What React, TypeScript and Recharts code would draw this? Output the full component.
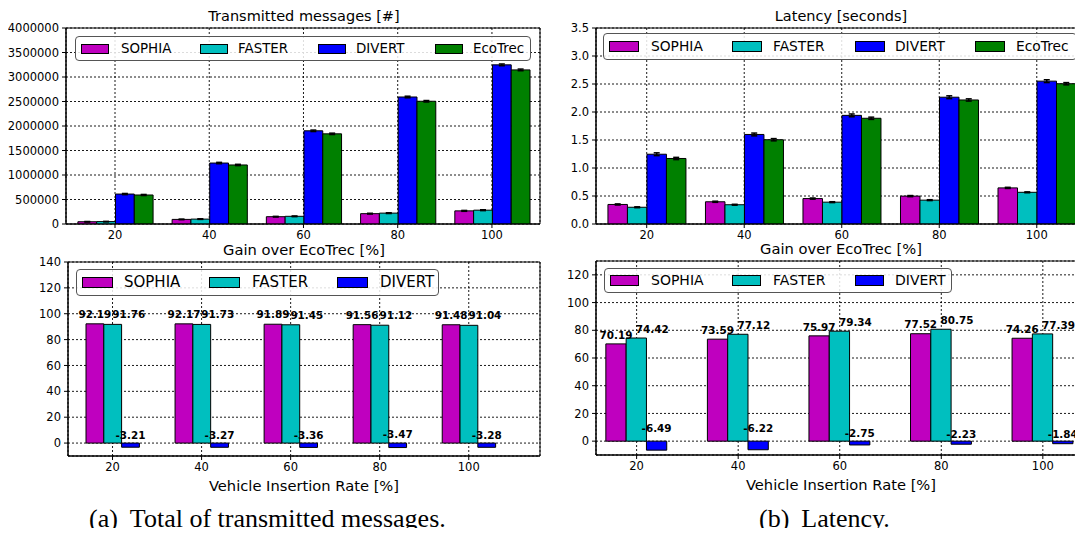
import React from "react";
import {
  BarChart,
  Bar,
  XAxis,
  YAxis,
  CartesianGrid,
  ErrorBar,
  LabelList,
  ReferenceArea,
} from "recharts";

const rates = [20, 40, 60, 80, 100];

// Transmitted messages [#]
const msgSophia = [46000, 94000, 149000, 211000, 268000];
const msgFaster = [49000, 100000, 157000, 222000, 282000];
const msgDivert = [611000, 1244000, 1902000, 2592000, 3248000];
const msgEcoTrec = [592000, 1205000, 1840000, 2505000, 3145000];
const msgSophiaErr = [5000, 6000, 7000, 8000, 9000];
const msgFasterErr = [5000, 6000, 7000, 8000, 9000];
const msgDivertErr = [12000, 14000, 15000, 16000, 18000];
const msgEcoTrecErr = [11000, 13000, 14000, 15000, 17000];

// Latency [seconds]
const latSophia = [0.349, 0.397, 0.454, 0.498, 0.645];
const latFaster = [0.299, 0.344, 0.39, 0.426, 0.566];
const latDivert = [1.246, 1.599, 1.94, 2.264, 2.551];
const latEcoTrec = [1.17, 1.505, 1.888, 2.215, 2.505];
const latSophiaErr = [0.01, 0.01, 0.01, 0.01, 0.01];
const latFasterErr = [0.008, 0.008, 0.008, 0.008, 0.008];
const latDivertErr = [0.025, 0.025, 0.025, 0.025, 0.025];
const latEcoTrecErr = [0.02, 0.02, 0.02, 0.02, 0.02];

// Gain over EcoTrec [%]
const msgGainSophia = [92.19, 92.17, 91.89, 91.56, 91.48];
const msgGainFaster = [91.76, 91.73, 91.45, 91.12, 91.04];
const msgGainDivert = [-3.21, -3.27, -3.36, -3.47, -3.28];
const latGainSophia = [70.19, 73.59, 75.97, 77.52, 74.26];
const latGainFaster = [74.42, 77.12, 79.34, 80.75, 77.39];
const latGainDivert = [-6.49, -6.22, -2.75, -2.23, -1.84];

const msgTicks = [0, 500000, 1000000, 1500000, 2000000, 2500000, 3000000, 3500000, 4000000];
const latTicks = [0, 0.5, 1, 1.5, 2, 2.5, 3, 3.5];
const gainMsgTicks = [0, 20, 40, 60, 80, 100, 120, 140];
const gainLatTicks = [0, 20, 40, 60, 80, 100, 120];

const COLORS: Record<string, string> = {
  SOPHIA: "#bf00bf",
  FASTER: "#00bfbf",
  DIVERT: "#0000ff",
  EcoTrec: "#008000",
};

const FONT = "'DejaVu Sans', sans-serif";
const SERIF = "'Liberation Serif', 'Times New Roman', serif";

const msgData = rates.map((rate, i) => ({
  rate,
  SOPHIA: msgSophia[i],
  FASTER: msgFaster[i],
  DIVERT: msgDivert[i],
  EcoTrec: msgEcoTrec[i],
  SOPHIA_err: msgSophiaErr[i],
  FASTER_err: msgFasterErr[i],
  DIVERT_err: msgDivertErr[i],
  EcoTrec_err: msgEcoTrecErr[i],
}));

const latData = rates.map((rate, i) => ({
  rate,
  SOPHIA: latSophia[i],
  FASTER: latFaster[i],
  DIVERT: latDivert[i],
  EcoTrec: latEcoTrec[i],
  SOPHIA_err: latSophiaErr[i],
  FASTER_err: latFasterErr[i],
  DIVERT_err: latDivertErr[i],
  EcoTrec_err: latEcoTrecErr[i],
}));

const msgGainData = rates.map((rate, i) => ({
  rate,
  SOPHIA: msgGainSophia[i],
  FASTER: msgGainFaster[i],
  DIVERT: msgGainDivert[i],
}));

const latGainData = rates.map((rate, i) => ({
  rate,
  SOPHIA: latGainSophia[i],
  FASTER: latGainFaster[i],
  DIVERT: latGainDivert[i],
}));

// value label sits at 1.05 * |value| above zero, FASTER ones nudged right
function GainLabel(props: any) {
  const vb = props.viewBox || props;
  const x = Number(vb.x);
  const y = Number(vb.y);
  const w = Number(vb.width);
  const h = Number(vb.height);
  const v = Number(props.value);
  if (!v || !h) return null;
  const k = Math.abs(h / v);
  const base = h * v >= 0 ? y + h : y;
  const ly = base - 1.05 * Math.abs(v) * k;
  const shift = Number(props.shift || 0);
  return (
    <text
      x={x + w / 2 + shift}
      y={ly}
      textAnchor="middle"
      fontSize={10.4}
      fontWeight="bold"
      fontFamily={FONT}
      fill="#000"
    >
      {v.toFixed(2)}
    </text>
  );
}

interface PanelProps {
  left: number;
  top: number;
  width: number;
  height: number;
  margin: { top: number; right: number; bottom: number; left: number };
  yWidth: number;
  xHeight: number;
  xDomain: [number, number];
  yDomain: [number, number];
  yTicks: number[];
  yFmt?: (v: number) => string;
  barSize: number;
  data: any[];
  keys: string[];
  errors?: boolean;
  labels?: boolean;
}

function Panel(p: PanelProps) {
  const tickStyle = { fontSize: 11.5, fill: "#000", fontFamily: FONT };
  return (
    <div style={{ position: "absolute", left: p.left, top: p.top }}>
      <BarChart
        width={p.width}
        height={p.height}
        data={p.data}
        margin={p.margin}
        barGap={0}
        barSize={p.barSize}
      >
        <XAxis
          type="number"
          dataKey="rate"
          domain={p.xDomain}
          ticks={rates}
          allowDataOverflow
          height={p.xHeight}
          tick={tickStyle}
          tickSize={4}
          tickMargin={3}
          stroke="#000"
          tickLine={{ stroke: "#000" }}
          axisLine={{ stroke: "#000" }}
        />
        <YAxis
          type="number"
          domain={p.yDomain}
          ticks={p.yTicks}
          allowDataOverflow
          width={p.yWidth}
          tick={tickStyle}
          tickFormatter={p.yFmt}
          tickSize={4}
          tickMargin={3}
          stroke="#000"
          tickLine={{ stroke: "#000" }}
          axisLine={{ stroke: "#000" }}
        />
        {p.keys.map((k) => (
          <Bar
            key={k}
            dataKey={k}
            fill={COLORS[k]}
            stroke="#000"
            strokeWidth={1}
            isAnimationActive={false}
          >
            {p.errors && (
              <ErrorBar
                dataKey={`${k}_err`}
                width={3}
                stroke="#000"
                strokeWidth={1.5}
                direction="y"
              />
            )}
            {p.labels && (
              <LabelList
                dataKey={k}
                content={<GainLabel shift={k === "FASTER" ? 16 : 0} />}
              />
            )}
          </Bar>
        ))}
        <CartesianGrid stroke="#000" strokeDasharray="2 2" strokeWidth={0.9} />
        <ReferenceArea
          x1={p.xDomain[0]}
          x2={p.xDomain[1]}
          y1={p.yDomain[0]}
          y2={p.yDomain[1]}
          fill="none"
          fillOpacity={0}
          stroke="#000"
          strokeWidth={1}
          ifOverflow="visible"
        />
      </BarChart>
    </div>
  );
}

interface LegendProps {
  left: number;
  top: number;
  width: number;
  height: number;
  fontSize: number;
  patchW: number;
  patchH: number;
  items: { name: string; patchX: number; textX: number }[];
}

function BoxLegend(l: LegendProps) {
  return (
    <div
      style={{
        position: "absolute",
        left: l.left,
        top: l.top,
        width: l.width,
        height: l.height,
        border: "1px solid #555",
        borderRadius: 4,
        background: "rgba(255,255,255,0.85)",
        boxSizing: "border-box",
        fontFamily: FONT,
        fontSize: l.fontSize,
        color: "#000",
      }}
    >
      {l.items.map((it) => (
        <React.Fragment key={it.name}>
          <div
            style={{
              position: "absolute",
              left: it.patchX,
              top: (l.height - 2 - l.patchH) / 2,
              width: l.patchW,
              height: l.patchH,
              background: COLORS[it.name],
              border: "1px solid #000",
              boxSizing: "border-box",
            }}
          />
          <div
            style={{
              position: "absolute",
              left: it.textX,
              top: 0,
              height: l.height - 2,
              lineHeight: `${l.height - 2}px`,
              whiteSpace: "nowrap",
            }}
          >
            {it.name}
          </div>
        </React.Fragment>
      ))}
    </div>
  );
}

function Label({ cx, cy, size, text }: { cx: number; cy: number; size: number; text: string }) {
  return (
    <div
      style={{
        position: "absolute",
        left: cx - 200,
        width: 400,
        top: cy - size * 0.6,
        height: size * 1.2,
        lineHeight: `${size * 1.2}px`,
        textAlign: "center",
        fontFamily: FONT,
        fontSize: size,
        color: "#000",
        whiteSpace: "nowrap",
      }}
    >
      {text}
    </div>
  );
}

function Caption({ left, tag, text }: { left: number; tag: string; text: string }) {
  return (
    <div
      style={{
        position: "absolute",
        left,
        top: 504,
        fontFamily: SERIF,
        fontSize: 26,
        lineHeight: "30px",
        color: "#000",
        whiteSpace: "nowrap",
      }}
    >
      {tag}
      <span style={{ marginLeft: 12 }}>{text}</span>
    </div>
  );
}

export default function App() {
  return (
    <div
      style={{
        position: "relative",
        width: 1083,
        height: 536,
        margin: -8,
        overflow: "hidden",
        background: "#fff",
      }}
    >
      {/* (a) transmitted messages */}
      <Panel
        left={0}
        top={0}
        width={548}
        height={250}
        margin={{ top: 28, right: 8, bottom: 0, left: 0 }}
        yWidth={66}
        xHeight={26}
        xDomain={[9.6, 110.2]}
        yDomain={[0, 4000000]}
        yTicks={msgTicks}
        barSize={18.8}
        data={msgData}
        keys={["SOPHIA", "FASTER", "DIVERT", "EcoTrec"]}
        errors
      />
      <Panel
        left={0}
        top={250}
        width={548}
        height={250}
        margin={{ top: 12, right: 8, bottom: 20, left: 0 }}
        yWidth={68}
        xHeight={24}
        xDomain={[10, 116]}
        yDomain={[-10, 140]}
        yTicks={gainMsgTicks}
        barSize={17.8}
        data={msgGainData}
        keys={["SOPHIA", "FASTER", "DIVERT"]}
        labels
      />

      {/* (b) latency */}
      <Panel
        left={540}
        top={0}
        width={560}
        height={250}
        margin={{ top: 28, right: 13.5, bottom: 0, left: 0 }}
        yWidth={56}
        xHeight={26}
        xDomain={[9.6, 110.2]}
        yDomain={[0, 3.5]}
        yTicks={latTicks}
        yFmt={(v) => v.toFixed(1)}
        barSize={19.5}
        data={latData}
        keys={["SOPHIA", "FASTER", "DIVERT", "EcoTrec"]}
        errors
      />
      <Panel
        left={540}
        top={250}
        width={560}
        height={250}
        margin={{ top: 11, right: 14, bottom: 21, left: 0 }}
        yWidth={56}
        xHeight={24}
        xDomain={[12, 108.5]}
        yDomain={[-10, 130]}
        yTicks={gainLatTicks}
        barSize={20.3}
        data={latGainData}
        keys={["SOPHIA", "FASTER", "DIVERT"]}
        labels
      />

      <BoxLegend
        left={75}
        top={36}
        width={456}
        height={25}
        fontSize={13.4}
        patchW={28}
        patchH={10}
        items={[
          { name: "SOPHIA", patchX: 5, textX: 45 },
          { name: "FASTER", patchX: 124, textX: 162 },
          { name: "DIVERT", patchX: 242, textX: 280 },
          { name: "EcoTrec", patchX: 359, textX: 397 },
        ]}
      />
      <BoxLegend
        left={603}
        top={33}
        width={474}
        height={27}
        fontSize={13.8}
        patchW={30}
        patchH={11}
        items={[
          { name: "SOPHIA", patchX: 5, textX: 47 },
          { name: "FASTER", patchX: 128, textX: 169 },
          { name: "DIVERT", patchX: 251, textX: 291 },
          { name: "EcoTrec", patchX: 371, textX: 412 },
        ]}
      />
      <BoxLegend
        left={76}
        top={269}
        width={363}
        height={27}
        fontSize={15}
        patchW={31}
        patchH={11}
        items={[
          { name: "SOPHIA", patchX: 5, textX: 47 },
          { name: "FASTER", patchX: 132, textX: 175 },
          { name: "DIVERT", patchX: 260, textX: 303 },
        ]}
      />
      <BoxLegend
        left={604}
        top={268}
        width={348}
        height={25}
        fontSize={14}
        patchW={29}
        patchH={11}
        items={[
          { name: "SOPHIA", patchX: 5, textX: 46 },
          { name: "FASTER", patchX: 127, textX: 168 },
          { name: "DIVERT", patchX: 250, textX: 290 },
        ]}
      />

      <Label cx={304} cy={17} size={14.5} text="Transmitted messages [#]" />
      <Label cx={841} cy={17} size={14.5} text="Latency [seconds]" />
      <Label cx={304} cy={250} size={14.7} text="Gain over EcoTrec [%]" />
      <Label cx={841} cy={249} size={14.7} text="Gain over EcoTrec [%]" />
      <Label cx={304} cy={486} size={14.7} text="Vehicle Insertion Rate [%]" />
      <Label cx={841} cy={485} size={14.7} text="Vehicle Insertion Rate [%]" />

      <Caption left={89} tag="(a)" text="Total of transmitted messages." />
      <Caption left={759} tag="(b)" text="Latency." />
    </div>
  );
}
